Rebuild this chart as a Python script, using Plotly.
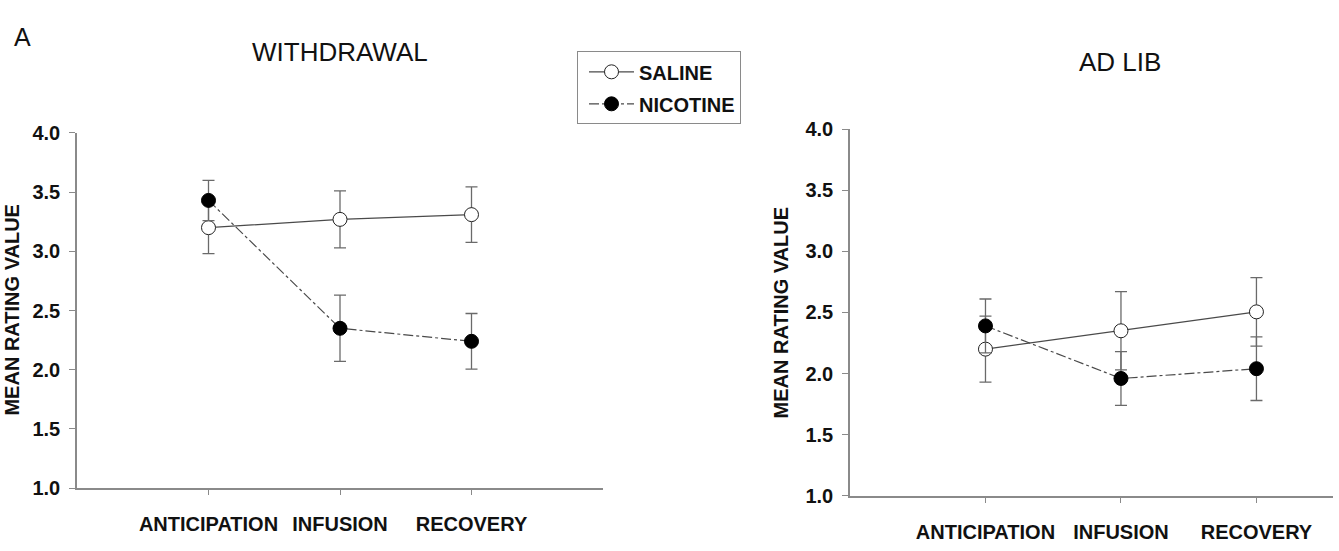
import plotly.graph_objects as go

# Session phases shared by both panels
phases = ["ANTICIPATION", "INFUSION", "RECOVERY"]

# Withdrawal condition: mean ratings and error (+/-)
wd_saline = [3.20, 3.27, 3.31]
wd_saline_err = [0.22, 0.24, 0.235]
wd_nicotine = [3.43, 2.35, 2.24]
wd_nicotine_err = [0.17, 0.28, 0.235]

# Ad lib condition
al_saline = [2.20, 2.35, 2.505]
al_saline_err = [0.27, 0.32, 0.28]
al_nicotine = [2.39, 1.96, 2.04]
al_nicotine_err = [0.22, 0.22, 0.26]

y_ticks = [1.0, 1.5, 2.0, 2.5, 3.0, 3.5, 4.0]

W, H = 1339, 551
FONT = "Liberation Sans, Arial, sans-serif"
AXIS_GREY = "#8a8a8a"
ERR_GREY = "#6a6a6a"


def px_x(p):
    return p / W


def px_y(p):
    return 1 - p / H


def add_pair(fig, saline, s_err, nicotine, n_err, xa, ya, show_legend):
    fig.add_trace(go.Scatter(
        x=phases, y=saline, name="SALINE", mode="lines+markers",
        xaxis=xa, yaxis=ya, showlegend=show_legend, legendgroup="s",
        line=dict(color="#4a4a4a", width=1.2),
        marker=dict(symbol="circle", size=14, color="white",
                    line=dict(color="#222222", width=1)),
        error_y=dict(type="data", array=s_err, visible=True,
                     color=ERR_GREY, thickness=1.3, width=6),
    ))
    fig.add_trace(go.Scatter(
        x=phases, y=nicotine, name="NICOTINE", mode="lines+markers",
        xaxis=xa, yaxis=ya, showlegend=show_legend, legendgroup="n",
        line=dict(color="#4a4a4a", width=1.2, dash="10px,3px,3px,3px"),
        marker=dict(symbol="circle", size=14, color="black",
                    line=dict(color="black", width=1)),
        error_y=dict(type="data", array=n_err, visible=True,
                     color=ERR_GREY, thickness=1.3, width=6),
    ))


fig = go.Figure()
add_pair(fig, wd_saline, wd_saline_err, wd_nicotine, wd_nicotine_err, "x", "y", True)
add_pair(fig, al_saline, al_saline_err, al_nicotine, al_nicotine_err, "x2", "y2", False)

tick_font = dict(family=FONT, size=20, color="#111111", weight="bold")

x_common = dict(
    type="category", categoryorder="array", categoryarray=phases,
    showline=True, linecolor=AXIS_GREY, linewidth=1.5,
    ticks="outside", ticklen=5, tickcolor=AXIS_GREY, tickwidth=1,
    showgrid=False, zeroline=False, tickfont=tick_font,
    ticklabelstandoff=12, fixedrange=True,
)
y_common = dict(
    range=[1.0, 4.0], tickvals=y_ticks, tickformat=".1f",
    showline=True, linecolor=AXIS_GREY, linewidth=1.5,
    ticks="outside", ticklen=6, tickcolor=AXIS_GREY, tickwidth=1,
    showgrid=False, zeroline=False, tickfont=tick_font,
    ticklabelstandoff=5, fixedrange=True,
)

fig.update_layout(
    width=W, height=H,
    margin=dict(l=0, r=0, t=0, b=0),
    paper_bgcolor="white", plot_bgcolor="white",
    font=dict(family=FONT, color="#111111"),
    xaxis=dict(x_common, domain=[px_x(77), px_x(603)], range=[-1, 3], anchor="y"),
    yaxis=dict(y_common, domain=[px_y(497), px_y(127)], anchor="x"),
    xaxis2=dict(x_common, domain=[px_x(850), px_x(1333)], range=[-1, 2.565], anchor="y2"),
    yaxis2=dict(y_common, domain=[px_y(505), px_y(123)], anchor="x2"),
    legend=dict(
        x=px_x(577), y=px_y(42), xanchor="left", yanchor="top",
        bordercolor=AXIS_GREY, borderwidth=1, bgcolor="white",
        font=dict(family=FONT, size=20, color="#111111", weight="bold"),
        tracegroupgap=3, itemwidth=45, indentation=6,
    ),
    showlegend=True,
)

annotations = [
    dict(text="A", x=px_x(12), y=px_y(10), xanchor="left", yanchor="top",
         font=dict(family=FONT, size=25, color="#111111")),
    dict(text="WITHDRAWAL", x=px_x(340), y=px_y(43), xanchor="center", yanchor="middle",
         font=dict(family=FONT, size=26, color="#111111")),
    dict(text="AD LIB", x=px_x(1120), y=px_y(53), xanchor="center", yanchor="middle",
         font=dict(family=FONT, size=26, color="#111111")),
    dict(text="MEAN RATING VALUE", x=px_x(12), y=px_y(312), textangle=-90,
         xanchor="center", yanchor="middle",
         font=dict(family=FONT, size=20, color="#111111", weight="bold")),
    dict(text="MEAN RATING VALUE", x=px_x(781), y=px_y(315), textangle=-90,
         xanchor="center", yanchor="middle",
         font=dict(family=FONT, size=20, color="#111111", weight="bold")),
]
for a in annotations:
    a.update(xref="paper", yref="paper", showarrow=False)
fig.update_layout(annotations=annotations)

fig.write_html("out.html", config=dict(displayModeBar=False))
